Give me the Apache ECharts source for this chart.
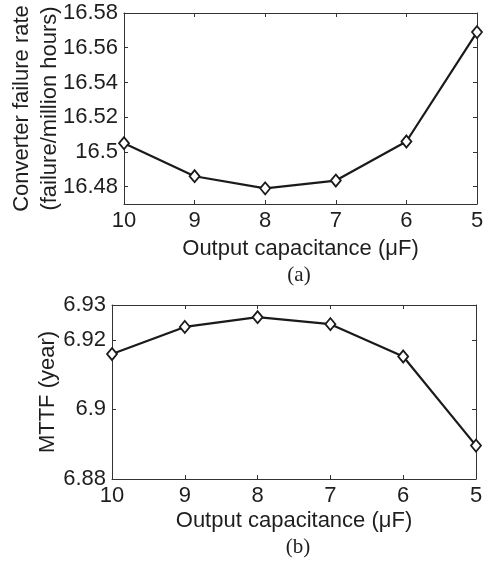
<!DOCTYPE html>
<html>
<head>
<meta charset="utf-8">
<script src="https://cdn.jsdelivr.net/npm/echarts@6/dist/echarts.min.js"></script>
<style>
  html, body { margin: 0; padding: 0; background: #fff; }
  #chart { width: 484px; height: 561px; }
</style>
</head>
<body>
<div id="chart"></div>
<script>
// capacitance values (uF), shown right to left
var capacitance = [10, 9, 8, 7, 6, 5];
// (a) converter failure rate, failure / million hours
var failureRate = [16.505, 16.486, 16.479, 16.4835, 16.506, 16.569];
// (b) MTTF, years
var mttf = [6.9159, 6.9237, 6.9265, 6.9245, 6.9152, 6.8896];

var xTicks = [5, 6, 7, 8, 9, 10];
var rateTicks = [16.48, 16.5, 16.52, 16.54, 16.56, 16.58];
var mttfTicks = [6.88, 6.9, 6.92, 6.93];

var font = 'Liberation Sans, Arial, sans-serif';
var ink = '#1e1e1e';
var frame = '#333';

function pairs(xs, ys) {
    var out = [];
    for (var i = 0; i < xs.length; i++) out.push([xs[i], ys[i]]);
    return out;
}

function trim(v) {
    return String(+(+v).toFixed(2));
}

// 底部x轴 + 顶部镜像
function xAxes(grid, gap) {
    var base = {
        type: 'value', gridIndex: grid, min: 5, max: 10, inverse: true,
        axisLine: { show: true, lineStyle: { color: frame, width: 1 } },
        splitLine: { show: false },
        axisTick: { show: true, inside: true, length: 4, lineStyle: { color: frame },
                    customValues: xTicks }
    };
    var bottom = Object.assign({}, base, {
        position: 'bottom',
        name: 'Output capacitance (\u03bcF)', nameLocation: 'middle', nameGap: gap,
        nameMoveOverlap: false,
        nameTextStyle: { fontFamily: font, fontSize: 22, color: ink },
        axisLabel: { show: true, customValues: xTicks, fontFamily: font, fontSize: 22,
                     color: ink, margin: 6 }
    });
    var top = Object.assign({}, base, { position: 'top', axisLabel: { show: false } });
    return [bottom, top];
}

function yAxes(grid, min, max, ticks, name, gap, lh) {
    var base = {
        type: 'value', gridIndex: grid, min: min, max: max,
        axisLine: { show: true, lineStyle: { color: frame, width: 1 } },
        splitLine: { show: false },
        axisTick: { show: true, inside: true, length: 4, lineStyle: { color: frame },
                    customValues: ticks }
    };
    var left = Object.assign({}, base, {
        position: 'left',
        name: name, nameLocation: 'middle', nameGap: gap,
        nameMoveOverlap: false,
        nameTextStyle: { fontFamily: font, fontSize: 22, color: ink, lineHeight: lh },
        axisLabel: { show: true, customValues: ticks, formatter: trim,
                     fontFamily: font, fontSize: 22, color: ink, margin: 6 }
    });
    var right = Object.assign({}, base, { position: 'right', axisLabel: { show: false } });
    return [left, right];
}

function lineSeries(x, y, data) {
    return {
        type: 'line', xAxisIndex: x, yAxisIndex: y, data: data,
        symbol: 'diamond', symbolSize: [10, 12], showSymbol: true,
        lineStyle: { color: '#1a1a1a', width: 2.2 },
        itemStyle: { color: '#fff', borderColor: '#1a1a1a', borderWidth: 1.8 },
        z: 3
    };
}

var myChart = echarts.init(document.getElementById('chart'), null, { renderer: 'canvas' });

var option = {
    backgroundColor: '#fff',
    animation: false,
    grid: [
        { left: 124, right: 7, top: 13, height: 191, outerBoundsMode: 'none', containLabel: false },
        { left: 112, right: 8, top: 305, height: 174, outerBoundsMode: 'none', containLabel: false }
    ],
    xAxis: xAxes(0, 34).concat(xAxes(1, 31)),
    yAxis: yAxes(0, 16.47, 16.58, rateTicks,
                 'Converter failure rate\n(failure/million hours)', 60, 28)
        .concat(yAxes(1, 6.88, 6.93, mttfTicks, 'MTTF (year)', 52, 24)),
    series: [
        lineSeries(0, 0, pairs(capacitance, failureRate)),
        lineSeries(2, 2, pairs(capacitance, mttf))
    ],
    graphic: [
        { type: 'text', x: 299, y: 275,
          style: { text: '(a)', font: '21px "Liberation Serif", serif', fill: ink,
                   textAlign: 'center', textVerticalAlign: 'middle' } },
        { type: 'text', x: 298, y: 547,
          style: { text: '(b)', font: '21px "Liberation Serif", serif', fill: ink,
                   textAlign: 'center', textVerticalAlign: 'middle' } }
    ]
};
myChart.setOption(option);
</script>
</body>
</html>
